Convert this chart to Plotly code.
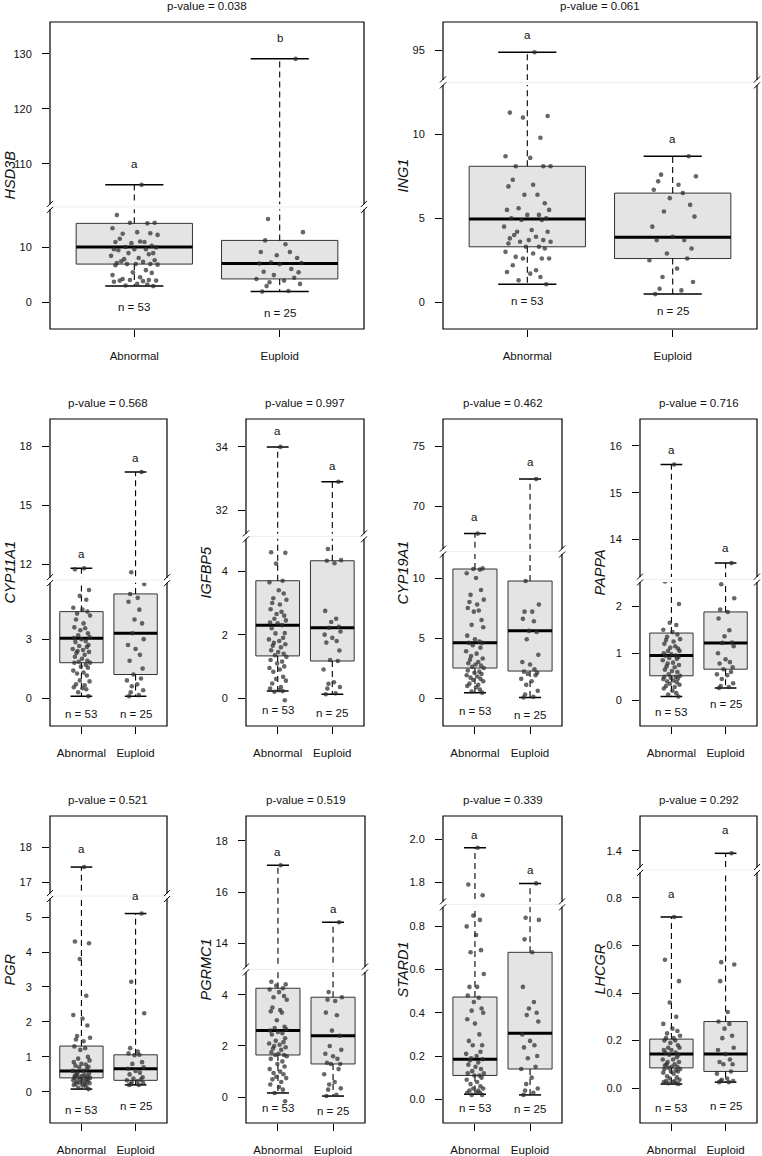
import plotly.graph_objects as go

# ---------------- data ----------------
GENES = ["HSD3B", "ING1", "CYP11A1", "IGFBP5", "CYP19A1",
         "PAPPA", "PGR", "PGRMC1", "STARD1", "LHCGR"]
P_VALUES = ["0.038", "0.061", "0.568", "0.997", "0.462",
            "0.716", "0.521", "0.519", "0.339", "0.292"]
GROUPS = ["Abnormal", "Euploid"]
GROUP_N = [53, 25]
LETTERS_ABN = ["a", "a", "a", "a", "a", "a", "a", "a", "a", "a"]
LETTERS_EUP = ["b", "a", "a", "a", "a", "a", "a", "a", "a", "a"]

# box statistics [whisker low, q1, median, q3, whisker high]
HSD3B_BOX_ABN = [2.9, 6.9, 10.0, 14.3, 106.2]
HSD3B_BOX_EUP = [1.9, 4.2, 7.0, 11.2, 129.1]
ING1_BOX_ABN = [1.07, 3.3, 4.95, 8.1, 94.9]
ING1_BOX_EUP = [0.48, 2.6, 3.87, 6.5, 8.7]
CYP11A1_BOX_ABN = [0.1, 1.8, 3.05, 4.4, 11.8]
CYP11A1_BOX_EUP = [0.1, 1.2, 3.3, 5.3, 16.7]
IGFBP5_BOX_ABN = [0.22, 1.33, 2.3, 3.7, 34.0]
IGFBP5_BOX_EUP = [0.12, 1.17, 2.22, 4.33, 32.9]
CYP19A1_BOX_ABN = [0.45, 2.5, 4.6, 10.75, 67.75]
CYP19A1_BOX_EUP = [0.05, 2.25, 5.6, 9.75, 72.3]
PAPPA_BOX_ABN = [0.08, 0.52, 0.95, 1.43, 15.6]
PAPPA_BOX_EUP = [0.26, 0.66, 1.22, 1.88, 13.5]
PGR_BOX_ABN = [0.08, 0.4, 0.6, 1.31, 17.43]
PGR_BOX_EUP = [0.2, 0.33, 0.66, 1.06, 5.1]
PGRMC1_BOX_ABN = [0.17, 1.65, 2.6, 4.25, 17.05]
PGRMC1_BOX_EUP = [0.05, 1.3, 2.4, 3.9, 14.83]
STARD1_BOX_ABN = [0.023, 0.11, 0.185, 0.473, 1.96]
STARD1_BOX_EUP = [0.02, 0.14, 0.305, 0.68, 1.795]
LHCGR_BOX_ABN = [0.017, 0.085, 0.143, 0.206, 0.72]
LHCGR_BOX_EUP = [0.025, 0.07, 0.143, 0.28, 1.39]

# individual samples
HSD3B_ABN = [106.2, 15.8, 14.4, 14.4, 14.3, 13.4, 12.7, 12.5, 12.4, 12.2,
             11.5, 11.0, 10.9, 10.9, 10.7, 10.2, 10.0, 9.9, 9.6, 9.6,
             9.6, 9.4, 8.9, 8.9, 8.7, 8.4, 8.0, 7.8, 7.6, 7.4,
             7.3, 7.1, 6.9, 6.9, 6.9, 6.8, 6.7, 5.8, 5.4, 5.3,
             4.9, 4.5, 4.2, 4.0, 4.0, 3.9, 3.9, 3.8, 3.7, 3.3,
             3.2, 3.0, 2.9]
HSD3B_EUP = [129.1, 15.1, 12.7, 11.2, 10.5, 9.1, 9.1, 8.5, 8.0, 7.2,
             7.1, 7.0, 6.9, 6.0, 5.5, 5.4, 4.9, 4.4, 4.2, 3.9,
             3.6, 3.3, 2.9, 2.0, 1.9]
ING1_ABN = [94.9, 11.3, 11.1, 11.0, 9.8, 8.7, 8.6, 8.1, 8.1, 8.1,
            7.3, 7.0, 6.9, 6.4, 6.4, 5.9, 5.6, 5.5, 5.5, 5.2,
            5.2, 5.0, 5.0, 4.9, 4.9, 4.5, 4.3, 4.2, 4.2, 4.0,
            3.9, 3.8, 3.7, 3.7, 3.6, 3.6, 3.5, 3.3, 3.3, 3.2,
            3.0, 2.9, 2.7, 2.6, 2.6, 2.6, 2.2, 1.9, 1.8, 1.7,
            1.5, 1.3, 1.07]
ING1_EUP = [8.7, 7.6, 7.5, 7.2, 7.0, 6.7, 6.5, 6.2, 5.8, 5.4,
            5.1, 4.5, 3.9, 3.7, 3.7, 3.2, 2.9, 2.6, 2.5, 2.0,
            1.5, 1.2, 0.8, 0.7, 0.48]
CYP11A1_ABN = [11.8, 11.75, 5.5, 5.2, 5.0, 4.6, 4.5, 4.4, 4.3, 4.2,
               4.0, 3.8, 3.6, 3.55, 3.45, 3.3, 3.2, 3.1, 3.05, 3.0,
               2.9, 2.85, 2.7, 2.65, 2.6, 2.5, 2.45, 2.4, 2.35, 2.3,
               2.2, 2.1, 2.0, 1.9, 1.85, 1.8, 1.8, 1.7, 1.6, 1.55,
               1.4, 1.3, 1.25, 1.15, 0.9, 0.85, 0.7, 0.65, 0.55, 0.5,
               0.45, 0.3, 0.1]
CYP11A1_EUP = [16.7, 11.6, 5.8, 5.3, 5.1, 4.9, 4.5, 4.0, 3.8, 3.3,
               3.0, 2.7, 2.5, 2.2, 1.9, 1.5, 1.2, 1.0, 0.9, 0.7,
               0.6, 0.4, 0.3, 0.15, 0.1]
IGFBP5_ABN = [34.0, 4.6, 4.58, 4.24, 3.7, 3.65, 3.4, 3.3, 3.15, 3.1,
              3.0, 2.95, 2.8, 2.72, 2.65, 2.6, 2.5, 2.45, 2.38, 2.36,
              2.3, 2.2, 2.05, 2.04, 1.9, 1.85, 1.8, 1.74, 1.7, 1.65,
              1.6, 1.51, 1.45, 1.4, 1.35, 1.3, 1.2, 1.15, 1.09, 1.0,
              0.95, 0.9, 0.83, 0.67, 0.6, 0.55, 0.46, 0.35, 0.3, 0.25,
              0.22, 0.2, -0.07]
IGFBP5_EUP = [32.9, 4.7, 4.35, 4.33, 4.25, 2.75, 2.5, 2.4, 2.25, 2.22,
              2.1, 2.0, 1.9, 1.8, 1.75, 1.5, 1.2, 1.17, 0.9, 0.5,
              0.45, 0.35, 0.3, 0.15, 0.12]
CYP19A1_ABN = [67.75, 12.2, 10.8, 10.75, 10.7, 10.4, 10.0, 9.0, 8.6, 8.2,
               8.0, 7.8, 7.5, 7.3, 7.2, 6.5, 6.1, 5.9, 5.2, 4.9,
               4.7, 4.6, 4.6, 4.4, 4.2, 3.9, 3.7, 3.5, 3.3, 3.2,
               3.0, 2.9, 2.8, 2.7, 2.6, 2.5, 2.3, 2.2, 2.1, 2.0,
               1.9, 1.8, 1.7, 1.6, 1.5, 1.4, 1.2, 1.1, 1.0, 0.9,
               0.7, 0.55, 0.45]
CYP19A1_EUP = [72.3, 9.75, 7.8, 7.2, 7.2, 6.6, 6.4, 5.6, 5.5, 4.9,
               3.6, 3.0, 2.8, 2.4, 2.2, 2.1, 2.0, 1.9, 1.6, 1.4,
               1.1, 0.6, 0.3, 0.1, 0.05]
PAPPA_ABN = [15.6, 2.53, 2.05, 1.65, 1.6, 1.5, 1.45, 1.4, 1.35, 1.3,
             1.28, 1.25, 1.2, 1.15, 1.12, 1.1, 1.05, 1.05, 1.0, 0.98,
             0.95, 0.95, 0.92, 0.9, 0.88, 0.85, 0.8, 0.78, 0.75, 0.72,
             0.7, 0.65, 0.62, 0.6, 0.55, 0.52, 0.5, 0.5, 0.48, 0.46,
             0.45, 0.42, 0.4, 0.38, 0.35, 0.33, 0.3, 0.28, 0.25, 0.2,
             0.15, 0.12, 0.08]
PAPPA_EUP = [13.5, 2.47, 2.17, 1.93, 1.88, 1.74, 1.49, 1.36, 1.23, 1.22,
             1.15, 1.0, 0.87, 0.81, 0.78, 0.7, 0.66, 0.6, 0.55, 0.53,
             0.45, 0.36, 0.3, 0.28, 0.26]
PGR_ABN = [17.43, 4.3, 4.25, 3.8, 2.75, 2.2, 2.1, 1.9, 1.6, 1.55,
           1.5, 1.45, 1.3, 1.25, 1.2, 1.0, 0.95, 0.9, 0.85, 0.8,
           0.78, 0.75, 0.72, 0.7, 0.65, 0.6, 0.6, 0.55, 0.52, 0.5,
           0.48, 0.46, 0.45, 0.43, 0.42, 0.4, 0.4, 0.38, 0.36, 0.35,
           0.33, 0.3, 0.3, 0.28, 0.26, 0.25, 0.23, 0.22, 0.2, 0.18,
           0.15, 0.12, 0.08]
PGR_EUP = [5.1, 3.15, 2.25, 1.25, 1.15, 1.1, 1.06, 1.05, 0.85, 0.8,
           0.7, 0.66, 0.6, 0.55, 0.5, 0.42, 0.38, 0.35, 0.33, 0.3,
           0.28, 0.25, 0.22, 0.2, 0.2]
PGRMC1_ABN = [17.05, 4.5, 4.4, 4.35, 4.25, 4.2, 4.1, 3.95, 3.9, 3.8,
              3.5, 3.4, 3.35, 3.3, 3.0, 2.75, 2.7, 2.65, 2.6, 2.55,
              2.5, 2.45, 2.3, 2.2, 2.15, 2.1, 2.05, 2.0, 1.95, 1.9,
              1.85, 1.75, 1.7, 1.65, 1.65, 1.6, 1.5, 1.4, 1.3, 1.2,
              1.1, 1.0, 0.95, 0.9, 0.8, 0.75, 0.7, 0.6, 0.5, 0.4,
              0.3, 0.17, -0.15]
PGRMC1_EUP = [14.83, 4.1, 3.9, 3.8, 3.75, 3.3, 3.2, 2.6, 2.4, 2.0,
              1.85, 1.7, 1.6, 1.5, 1.35, 1.3, 1.3, 1.1, 0.9, 0.6,
              0.5, 0.35, 0.3, 0.1, 0.05]
STARD1_ABN = [1.96, 1.79, 1.74, 0.85, 0.83, 0.8, 0.76, 0.69, 0.68, 0.58,
              0.52, 0.52, 0.48, 0.47, 0.45, 0.42, 0.41, 0.4, 0.37, 0.35,
              0.3, 0.27, 0.25, 0.25, 0.22, 0.21, 0.2, 0.19, 0.185, 0.18,
              0.17, 0.16, 0.15, 0.14, 0.13, 0.12, 0.12, 0.11, 0.11, 0.1,
              0.09, 0.08, 0.07, 0.06, 0.05, 0.05, 0.04, 0.04, 0.03, 0.03,
              0.03, 0.02, 0.02]
STARD1_EUP = [1.795, 0.84, 0.83, 0.74, 0.68, 0.52, 0.45, 0.42, 0.4, 0.39,
              0.36, 0.3, 0.27, 0.25, 0.24, 0.2, 0.19, 0.15, 0.14, 0.1,
              0.07, 0.05, 0.04, 0.03, 0.02]
LHCGR_ABN = [0.72, 0.54, 0.45, 0.36, 0.3, 0.27, 0.25, 0.24, 0.23, 0.22,
             0.21, 0.21, 0.2, 0.2, 0.19, 0.18, 0.17, 0.17, 0.16, 0.16,
             0.15, 0.15, 0.14, 0.14, 0.13, 0.12, 0.12, 0.11, 0.11, 0.1,
             0.1, 0.095, 0.09, 0.09, 0.085, 0.08, 0.08, 0.075, 0.07, 0.07,
             0.065, 0.06, 0.05, 0.045, 0.04, 0.035, 0.03, 0.03, 0.025, 0.025,
             0.02, 0.02, 0.017]
LHCGR_EUP = [1.39, 0.53, 0.52, 0.45, 0.32, 0.28, 0.27, 0.25, 0.22, 0.21,
             0.17, 0.16, 0.143, 0.12, 0.11, 0.1, 0.1, 0.07, 0.06, 0.04,
             0.035, 0.03, 0.03, 0.025, 0.025]

# axis tick values (lower segment / upper segment of the broken axis)
TICKS_LOWER = [[0, 10], [0, 5, 10], [0, 3], [0, 2, 4], [0, 5, 10],
               [0, 1, 2], [0, 1, 2, 3, 4, 5], [0, 2, 4],
               [0, 0.2, 0.4, 0.6, 0.8], [0, 0.2, 0.4, 0.6, 0.8]]
TICKS_UPPER = [[110, 120, 130], [95], [12, 15, 18], [32, 34], [70, 75],
               [14, 15, 16], [17, 18], [14, 16, 18], [1.8, 2.0], [1.4]]
TICK_DECIMALS = [0, 0, 0, 0, 0, 0, 0, 0, 1, 1]

BOXES = [
    (HSD3B_BOX_ABN, HSD3B_BOX_EUP), (ING1_BOX_ABN, ING1_BOX_EUP),
    (CYP11A1_BOX_ABN, CYP11A1_BOX_EUP), (IGFBP5_BOX_ABN, IGFBP5_BOX_EUP),
    (CYP19A1_BOX_ABN, CYP19A1_BOX_EUP), (PAPPA_BOX_ABN, PAPPA_BOX_EUP),
    (PGR_BOX_ABN, PGR_BOX_EUP), (PGRMC1_BOX_ABN, PGRMC1_BOX_EUP),
    (STARD1_BOX_ABN, STARD1_BOX_EUP), (LHCGR_BOX_ABN, LHCGR_BOX_EUP)]
POINTS = [
    (HSD3B_ABN, HSD3B_EUP), (ING1_ABN, ING1_EUP), (CYP11A1_ABN, CYP11A1_EUP),
    (IGFBP5_ABN, IGFBP5_EUP), (CYP19A1_ABN, CYP19A1_EUP), (PAPPA_ABN, PAPPA_EUP),
    (PGR_ABN, PGR_EUP), (PGRMC1_ABN, PGRMC1_EUP), (STARD1_ABN, STARD1_EUP),
    (LHCGR_ABN, LHCGR_EUP)]

# horizontal jitter offsets of the dots (category units)
JITTER = [0.05, -0.12, 0.14, -0.03, 0.09, -0.15, 0.02, 0.11, -0.08, 0.16,
          -0.1, 0.04, -0.13, 0.07, -0.02, 0.12, -0.06, 0.15, -0.14, 0.0,
          0.08, -0.11, 0.13, -0.04, 0.1, -0.16, 0.03, -0.07, 0.14, -0.09,
          0.06, -0.12, 0.01, 0.11, -0.05, 0.16, -0.13, 0.08, -0.01, 0.12,
          -0.15, 0.04, -0.08, 0.1, -0.03, 0.15, -0.1, 0.06, -0.14, 0.02,
          0.09, -0.06, 0.13]

# ---------------- layout (pixels) ----------------
W, H = 762, 1156
FRAMES = [(50, 364, 22, 329), (443, 757, 22, 329),
          (50, 167, 419, 726), (246, 364, 419, 726), (443, 562, 419, 726), (640, 757, 419, 726),
          (50, 167, 816, 1123), (246, 365, 816, 1123), (443, 562, 816, 1123), (640, 757, 816, 1123)]
LOWER_RANGES = [(-4.9, 17.3), (-1.6, 13.1), (-1.42, 6.0), (-0.88, 5.1), (-2.33, 12.2),
                (-0.55, 2.57), (-0.89, 5.6), (-1.0, 4.98), (-0.11, 0.902), (-0.147, 0.918)]
UPPER_RANGES = [(102.2, 135.8), (93.1, 96.7), (11.2, 19.4), (31.18, 34.88), (66.25, 77.3),
                (13.15, 16.57), (16.6, 18.89), (12.99, 18.97), (1.698, 2.107), (1.32, 1.547)]
LETTER_SHIFT = [21, 17, 14, 16, 17, 15, 18, 13, 13, 23]
N_SHIFT = [21, 17, 18, 19, 18, 16, 21, 15, 14, 24]

FONT = "Liberation Sans, Arial, sans-serif"
TXT = "#111111"
BOX_FILL = "#e4e4e4"
BOX_LINE = "#333333"
DOT = "rgba(45,45,45,0.72)"
BW = 0.4   # half box width
CW = 0.2   # half cap width
XR = [0.42, 2.58]


def fx(x):
    return x / W


def fy(y):
    return 1 - y / H


def aid(prefix, n):
    return prefix if n == 1 else f"{prefix}{n}"


fig = go.Figure()
annotations = []
shapes = []
layout_axes = {}
label_font = dict(family=FONT, size=11.5, color=TXT)

for i, gene in enumerate(GENES):
    left, right, top, bottom = FRAMES[i]
    lo, up = LOWER_RANGES[i], UPPER_RANGES[i]
    span_lo = lo[1] - lo[0]
    span_up = up[1] - up[0]
    ybrk = top + span_up / (span_lo + span_up) * (bottom - top)

    xn, yln, yun = i + 1, 2 * i + 1, 2 * i + 2
    xa, yla, yua = aid("x", xn), aid("y", yln), aid("y", yun)

    fmt = "{:.%df}" % TICK_DECIMALS[i]
    ytickfont = dict(family=FONT, size=11, color=TXT)
    layout_axes[aid("xaxis", xn)] = dict(
        domain=[fx(left), fx(right)], range=XR, anchor=yla,
        tickvals=[1, 2], ticktext=GROUPS, ticks="outside", ticklen=7,
        tickwidth=1, tickcolor="black", showgrid=False, zeroline=False,
        showline=False, tickfont=label_font, ticklabelstandoff=9, fixedrange=True)
    layout_axes[aid("yaxis", yln)] = dict(
        domain=[fy(bottom), fy(ybrk)], range=list(lo), anchor=xa,
        tickvals=TICKS_LOWER[i], ticktext=[fmt.format(v) for v in TICKS_LOWER[i]],
        ticks="outside", ticklen=7, tickwidth=1, tickcolor="black",
        showgrid=False, zeroline=False, showline=False, tickfont=ytickfont,
        ticklabelstandoff=8, fixedrange=True)
    layout_axes[aid("yaxis", yun)] = dict(
        domain=[fy(ybrk), fy(top)], range=list(up), anchor=xa,
        tickvals=TICKS_UPPER[i], ticktext=[fmt.format(v) for v in TICKS_UPPER[i]],
        ticks="outside", ticklen=7, tickwidth=1, tickcolor="black",
        showgrid=False, zeroline=False, showline=False, tickfont=ytickfont,
        ticklabelstandoff=8, fixedrange=True)

    for ya in (yla, yua):
        for g in range(2):
            c = g + 1
            mn, q1, md, q3, mx = BOXES[i][g]
            common = dict(xaxis=xa, yaxis=ya, showlegend=False, hoverinfo="skip")
            fig.add_trace(go.Scatter(
                x=[c - BW, c + BW, c + BW, c - BW, c - BW], y=[q1, q1, q3, q3, q1],
                mode="lines", fill="toself", fillcolor=BOX_FILL,
                line=dict(color=BOX_LINE, width=1), **common))
            fig.add_trace(go.Scatter(
                x=[c, c, None, c, c], y=[q3, mx, None, q1, mn], mode="lines",
                line=dict(color="black", width=1.1, dash="6px,4px"), **common))
            fig.add_trace(go.Scatter(
                x=[c - CW, c + CW, None, c - CW, c + CW], y=[mx, mx, None, mn, mn],
                mode="lines", line=dict(color="black", width=1.5), **common))
            fig.add_trace(go.Scatter(
                x=[c - BW, c + BW], y=[md, md], mode="lines",
                line=dict(color="black", width=3), **common))
            pts = POINTS[i][g]
            fig.add_trace(go.Scatter(
                x=[c + JITTER[(k + 7 * g) % len(JITTER)] for k in range(len(pts))], y=pts,
                mode="markers", marker=dict(size=4.6, color=DOT, line=dict(width=0)),
                **common))

    # letters above the upper whisker, n below the lower whisker
    letters = (LETTERS_ABN[i], LETTERS_EUP[i])
    for g in range(2):
        mn, q1, md, q3, mx = BOXES[i][g]
        annotations.append(dict(
            x=g + 1, y=mx, xref=xa, yref=(yua if mx > lo[1] else yla),
            text=letters[g], showarrow=False, yshift=LETTER_SHIFT[i],
            xanchor="center", yanchor="middle", font=label_font))
        annotations.append(dict(
            x=g + 1, y=mn, xref=xa, yref=yla, text=f"n = {GROUP_N[g]}",
            showarrow=False, yshift=-N_SHIFT[i], xanchor="center", yanchor="middle",
            font=label_font))

    annotations.append(dict(
        x=fx((left + right) / 2), y=fy(top - 16), xref="paper", yref="paper",
        text=f"p-value = {P_VALUES[i]}", showarrow=False,
        xanchor="center", yanchor="middle", font=label_font))
    annotations.append(dict(
        x=fx(left - 41), y=fy((top + bottom) / 2), xref="paper", yref="paper",
        text=f"<i>{gene}</i>", showarrow=False, textangle=-90,
        xanchor="center", yanchor="middle",
        font=dict(family=FONT, size=14.5, color=TXT)))

    # frame
    shapes.append(dict(type="rect", xref="paper", yref="paper",
                       x0=fx(left), x1=fx(right), y0=fy(bottom), y1=fy(top),
                       line=dict(color="black", width=1.2), layer="above"))
    # axis break
    shapes.append(dict(type="rect", xref="paper", yref="paper",
                       x0=fx(left - 2), x1=fx(right + 2), y0=fy(ybrk + 2.5), y1=fy(ybrk - 2.5),
                       fillcolor="white", line=dict(width=0), layer="above"))
    shapes.append(dict(type="line", xref="paper", yref="paper",
                       x0=fx(left + 1), x1=fx(right - 1), y0=fy(ybrk), y1=fy(ybrk),
                       line=dict(color="#eeeeee", width=1), layer="above"))
    for ex in (left, right):
        for dy in (-3, 3):
            shapes.append(dict(type="line", xref="paper", yref="paper",
                               x0=fx(ex - 3), x1=fx(ex + 3),
                               y0=fy(ybrk + dy + 3), y1=fy(ybrk + dy - 3),
                               line=dict(color="black", width=1), layer="above"))

fig.update_layout(
    width=W, height=H, margin=dict(l=0, r=0, t=0, b=0),
    paper_bgcolor="white", plot_bgcolor="white", showlegend=False,
    annotations=annotations, shapes=shapes, **layout_axes)

fig.write_html("out.html", config={"displayModeBar": False},
               post_script="document.body.style.margin='0px';"
                           "document.body.style.overflow='hidden';")
